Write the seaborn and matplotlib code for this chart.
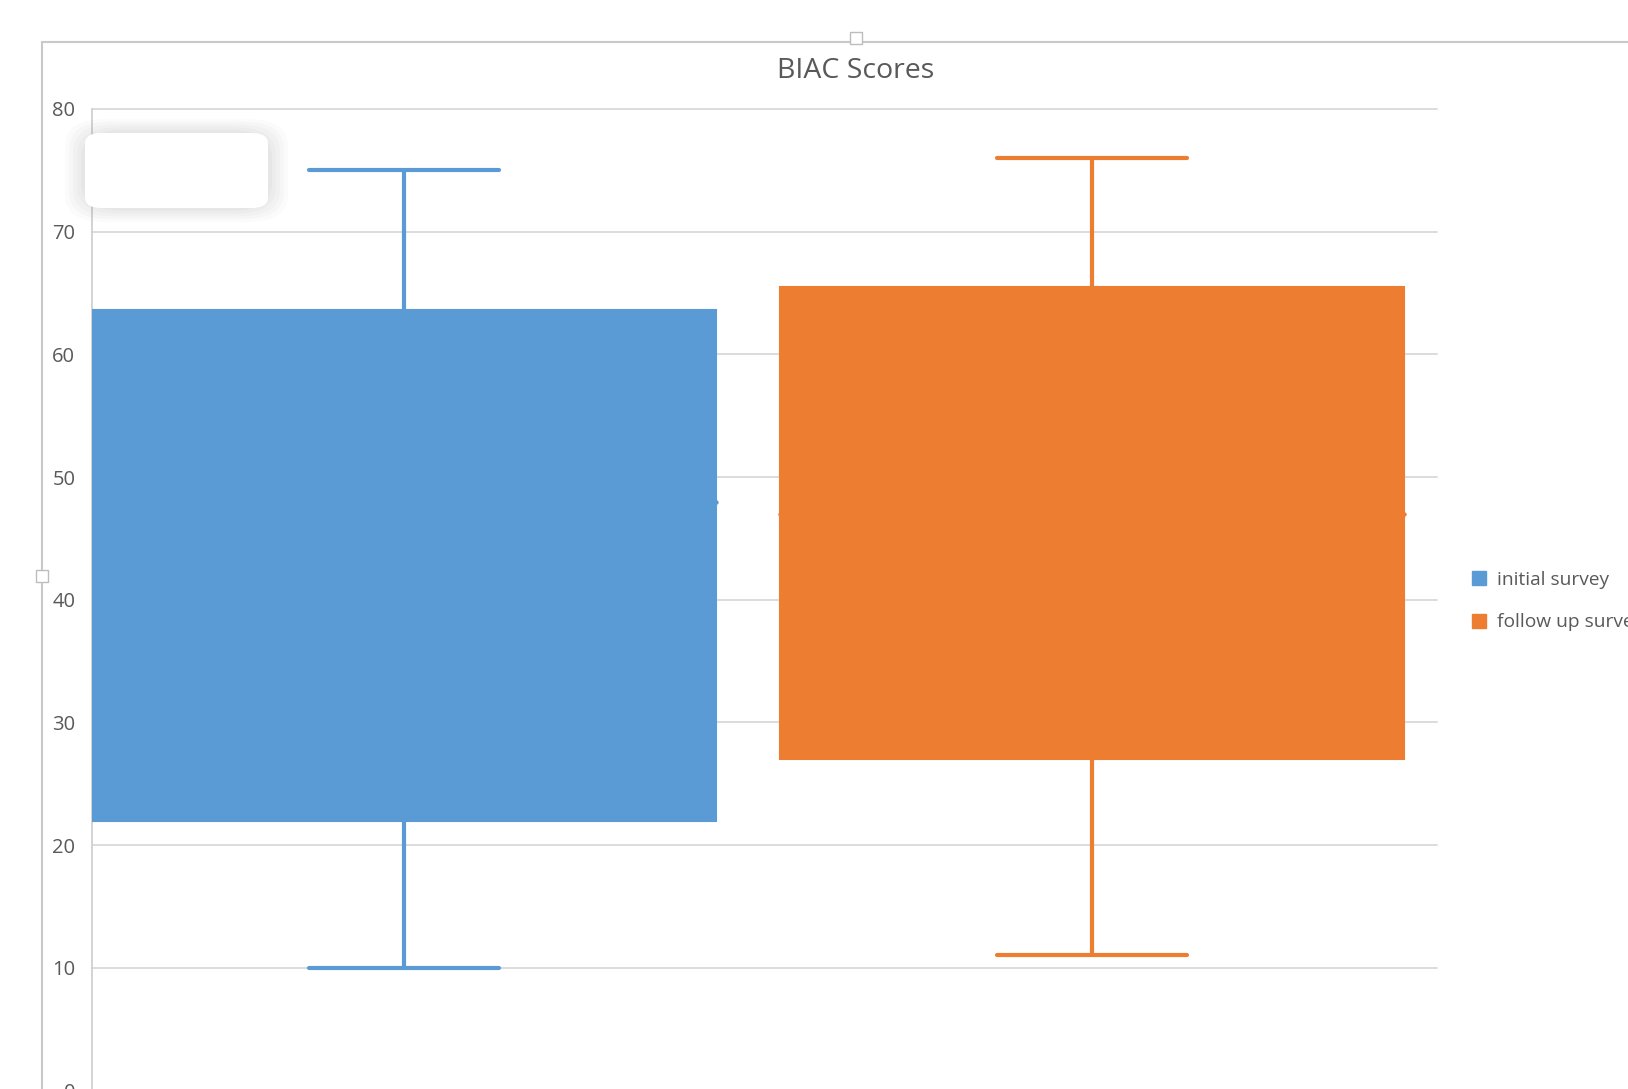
import matplotlib
matplotlib.use("Agg")
import numpy as np
import pandas as pd
import seaborn as sns
import matplotlib.pyplot as plt
from matplotlib.patches import Patch, FancyBboxPatch, Rectangle
from matplotlib.lines import Line2D

# values
groups = ["initial survey", "follow up survey"]
q1 = [22.0, 27.0]
q3 = [63.6, 65.5]
medians = [48.0, 47.0]
low = [10.0, 11.0]
high = [75.0, 76.0]
yticks = [0, 10, 20, 30, 40, 50, 60, 70, 80]
colors = ["#5B9BD5", "#ED7D31"]

df = pd.DataFrame({"group": groups, "q1": q1, "q3": q3, "median": medians,
                   "low": low, "high": high})

sns.set_theme(style="white")
plt.rcParams["font.family"] = ["Open Sans", "DejaVu Sans"]

W, H = 1628, 1089
fig = plt.figure(figsize=(W / 100, H / 100), dpi=100)
fig.patch.set_facecolor("white")

# excel chart frame + handles
fig.add_artist(Line2D([41.5 / W, 41.5 / W], [0, 1 - 41.5 / H], color="#C9C9C9", lw=1.5))
fig.add_artist(Line2D([41.5 / W, 1], [1 - 41.5 / H, 1 - 41.5 / H], color="#C9C9C9", lw=1.5))
for (cx, cy) in [(856, 38), (41.5, 576)]:
    fig.add_artist(Rectangle(((cx - 6) / W, 1 - (cy + 6) / H), 12 / W, 12 / H,
                             facecolor="white", edgecolor="#BDBDBD", lw=1, zorder=5))

ax = fig.add_axes([92 / W, -1.4 / H, (1437 - 92) / W, 981.4 / H])
pos = np.arange(len(df))
box_w = 0.907
cap_w = 0.138

ax.bar(pos, df["q3"] - df["q1"], bottom=df["q1"], width=box_w, color=colors,
       edgecolor=colors, linewidth=1.5, zorder=3)
ax.vlines(pos, df["q3"], df["high"], colors=colors, lw=3, zorder=3, capstyle="round")
ax.vlines(pos, df["low"], df["q1"], colors=colors, lw=3, zorder=3, capstyle="round")
ax.hlines(df["high"], pos - cap_w, pos + cap_w, colors=colors, lw=3, zorder=3, capstyle="round")
ax.hlines(df["low"], pos - cap_w, pos + cap_w, colors=colors, lw=3, zorder=3, capstyle="round")
# small median markers at the box edges
for p, m, c in zip(pos, df["median"], colors):
    ax.scatter([p - box_w / 2, p + box_w / 2], [m, m], s=10, color=c, zorder=4, linewidths=0)

ax.set_xlim(-0.4535, 1.5015)
ax.set_ylim(0, 80)
ax.set_yticks(yticks)
ax.set_yticklabels([str(t) for t in yticks], fontsize=14.5, color="#595959")
ax.set_xticks([])
ax.tick_params(axis="y", length=0, pad=12)
ax.grid(axis="y", color="#D9D9D9", lw=1.3, zorder=0)
for g in ax.get_ygridlines():
    g.set_clip_on(False)
for s in ["top", "right", "bottom"]:
    ax.spines[s].set_visible(False)
ax.spines["left"].set_color("#D0D0D0")
ax.spines["left"].set_linewidth(1.3)

# blanked-out label box in the top left
for i, a in enumerate([0.03, 0.035, 0.04, 0.045, 0.05]):
    g = 20 - i * 4
    fig.add_artist(FancyBboxPatch(((85 - g) / W, 1 - (208 + g * 0.7) / H), (183 + 2 * g) / W,
                                  (75 + 1.4 * g) / H,
                                  boxstyle="round,pad=0,rounding_size=0.025", facecolor="#808080",
                                  edgecolor="none", alpha=a, zorder=6))
fig.add_artist(FancyBboxPatch((85 / W, 1 - 208 / H), 183 / W, 75 / H,
                              boxstyle="round,pad=0,rounding_size=0.01", facecolor="white",
                              edgecolor="none", zorder=7))

fig.text(856 / W, 1 - 71 / H, "BIAC Scores", ha="center", va="center", fontsize=20.5, color="#595959")

handles = [Patch(facecolor=c, edgecolor=c) for c in colors]
fig.legend(handles, groups, loc="center left", bbox_to_anchor=(1455 / W, 1 - 601 / H),
           frameon=False, fontsize=13.8, labelcolor="#595959", handlelength=0.72,
           handleheight=0.72, handletextpad=0.55, labelspacing=1.3)

fig.savefig("out.png", dpi=100, facecolor="white")
